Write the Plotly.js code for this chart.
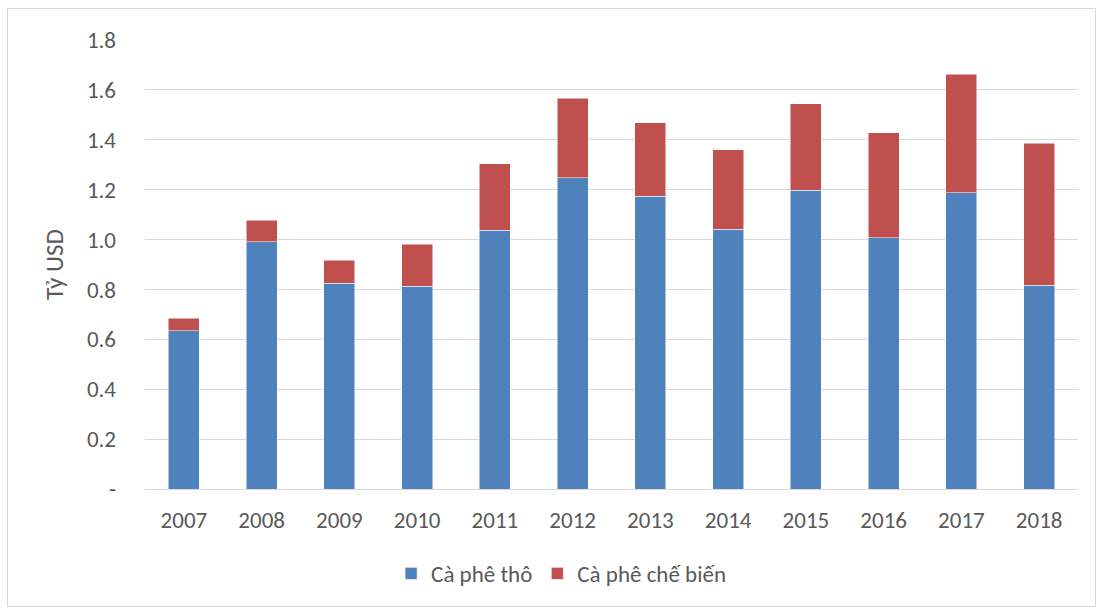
<!DOCTYPE html>
<html>
<head>
<meta charset="utf-8">
<script src="https://cdn.plot.ly/plotly-3.0.1.min.js"></script>
<style>
  html, body { margin: 0; padding: 0; background: #ffffff; }
  #wrap { position: relative; width: 1103px; height: 607px; }
  #chart { width: 1103px; height: 607px; }
  #frame { position: absolute; left: 7px; top: 8px; width: 1087px; height: 597px; border: 1px solid #d9d9d9; pointer-events: none; }
</style>
</head>
<body>
<div id="wrap">
  <div id="chart"></div>
  <div id="frame"></div>
</div>
<script>
const years = ["2007","2008","2009","2010","2011","2012","2013","2014","2015","2016","2017","2018"];
const rawCoffee = [0.635, 0.991, 0.824, 0.813, 1.037, 1.248, 1.174, 1.041, 1.198, 1.007, 1.188, 0.817];
const processedCoffee = [0.050, 0.086, 0.093, 0.168, 0.266, 0.318, 0.294, 0.319, 0.346, 0.421, 0.475, 0.569];
const seriesNames = ["Cà phê thô", "Cà phê chế biến"];
const tickValues = [0, 0.2, 0.4, 0.6, 0.8, 1.0, 1.2, 1.4, 1.6, 1.8];
const tickLabels = ["-", "0.2", "0.4", "0.6", "0.8", "1.0", "1.2", "1.4", "1.6", "1.8"];

const font = "Carlito, Calibri, Lato, 'Open Sans', sans-serif";

const traces = [
  {
    type: "bar", name: seriesNames[0], x: years, y: rawCoffee,
    marker: { color: "#4f81bd", line: { color: "#ffffff", width: 0.5 } }
  },
  {
    type: "bar", name: seriesNames[1], x: years, y: processedCoffee,
    marker: { color: "#c0504d", line: { color: "#ffffff", width: 0.5 } }
  }
];

const layout = {
  width: 1103, height: 607,
  barmode: "stack",
  bargap: 0.6,
  paper_bgcolor: "#ffffff",
  plot_bgcolor: "#ffffff",
  margin: { l: 145, r: 25, t: 40, b: 116 },
  font: { family: font, color: "#595959", size: 23 },
  xaxis: {
    type: "category",
    showgrid: false,
    showline: true, linecolor: "#d9d9d9", linewidth: 1,
    ticks: "", ticklabelstandoff: 10,
    tickfont: { size: 23, color: "#595959" }
  },
  yaxis: {
    range: [0, 1.8],
    tickvals: tickValues, ticktext: tickLabels,
    showgrid: true, gridcolor: "#d9d9d9", gridwidth: 1,
    zeroline: false, showline: false, ticks: "",
    ticklabelstandoff: 28,
    tickfont: { size: 23, color: "#595959" },
    title: { text: "Tỷ USD", font: { size: 25, color: "#595959" }, standoff: 16 }
  },
  legend: {
    orientation: "h", x: 0.446, xanchor: "center", xref: "paper",
    y: -0.188, yanchor: "middle",
    font: { size: 23, color: "#595959" },
    traceorder: "normal", itemwidth: 30
  },
  showlegend: true
};

Plotly.newPlot("chart", traces, layout, { displayModeBar: false, staticPlot: true });
</script>
</body>
</html>
